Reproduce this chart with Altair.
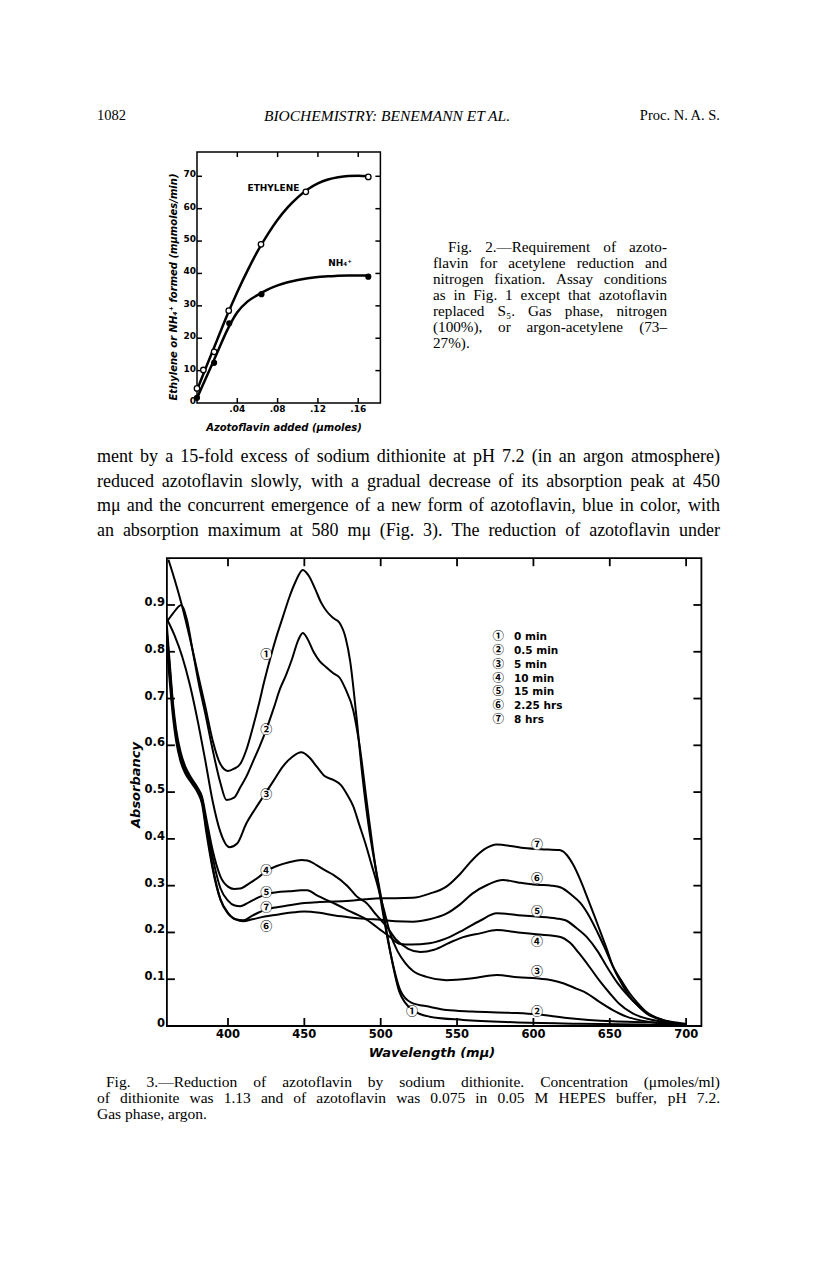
import altair as alt
import pandas as pd

# ------------------------------------------------------------------ page text
header_left = "1082"
header_center = "BIOCHEMISTRY: BENEMANN ET AL."
header_right = "Proc. N. A. S."

fig2_caption = [
    "Fig. 2.—Requirement of azoto-",
    "flavin for acetylene reduction and",
    "nitrogen fixation.  Assay conditions",
    "as in Fig. 1 except that azotoflavin",
    "replaced S₅.  Gas phase, nitrogen",
    "(100%), or argon-acetylene (73–",
    "27%).",
]
paragraph = [
    "ment by a 15-fold excess of sodium dithionite at pH 7.2 (in an argon atmosphere)",
    "reduced azotoflavin slowly, with a gradual decrease of its absorption peak at 450",
    "mμ and the concurrent emergence of a new form of azotoflavin, blue in color, with",
    "an absorption maximum at 580 mμ (Fig. 3).   The reduction of azotoflavin under",
]
fig3_caption = [
    "Fig. 3.—Reduction of azotoflavin by sodium dithionite.  Concentration (μmoles/ml)",
    "of dithionite was 1.13 and of azotoflavin was 0.075 in 0.05 M HEPES buffer, pH 7.2.",
    "Gas phase, argon.",
]

# ------------------------------------------------------------------ Fig. 2 data
eth_pts_x = [0.0, 0.0063, 0.017, 0.0315, 0.0635, 0.108, 0.170]
eth_pts_y = [4.5, 10.2, 15.8, 28.5, 49.0, 65.2, 69.8]
nh4_pts_x = [0.0, 0.017, 0.032, 0.064, 0.170]
nh4_pts_y = [1.6, 12.4, 24.6, 33.6, 39.0]
curve2_x = [0, .01, .02, .03, .04, .05, .06, .07, .08, .09, .10, .11, .12, .13, .14, .15, .16, .17]
curve2_eth = [4, 11.8, 19.5, 27.2, 34.3, 40.8, 46.8, 52, 56.6, 60.4, 63.5, 66.0, 67.8, 69.0, 69.7, 70.1, 70.2, 70.0]
curve2_nh4 = [1.5, 8.5, 15.5, 22.5, 28, 31.3, 33.3, 35, 36.3, 37.3, 38, 38.5, 38.9, 39.1, 39.3, 39.4, 39.4, 39.4]
fig2_x_ticks = [0.04, 0.08, 0.12, 0.16]
fig2_x_labels = [".04", ".08", ".12", ".16"]
fig2_y_ticks = [10, 20, 30, 40, 50, 60, 70]
fig2_y_vals = [0, 10, 20, 30, 40, 50, 60, 70]
fig2_y_labels = ["0", "10", "20", "30", "40", "50", "60", "70"]
fig2_x_title = "Azotoflavin added (μmoles)"
fig2_y_title = "Ethylene or NH₄⁺ formed (mμmoles/min)"

# ------------------------------------------------------------------ Fig. 3 data
c1_wl = [361, 365, 370, 375, 380, 385, 390, 395, 400, 404, 408, 412, 416, 420, 424, 428, 432, 436, 440, 444,
         449, 453, 457, 461, 465, 469, 473, 477, 480, 484, 488, 492, 496, 500, 504, 508, 512, 516, 521,
         532, 554, 587, 630, 670, 700]
c1_ab = [0.997, 0.955, 0.897, 0.83, 0.757, 0.685, 0.61, 0.56, 0.545, 0.55, 0.56, 0.59, 0.635, 0.685, 0.74,
         0.79, 0.835, 0.875, 0.915, 0.948, 0.975, 0.962, 0.935, 0.905, 0.885, 0.872, 0.862, 0.83, 0.78,
         0.665, 0.535, 0.43, 0.35, 0.28, 0.20, 0.13, 0.075, 0.05, 0.034, 0.02, 0.013, 0.008, 0.005, 0.003, 0.002]
c2_wl = [360, 364, 369.5, 373, 377, 381, 385, 390, 395, 399, 404, 408, 412, 417, 421, 425, 430, 434, 438,
         442, 446, 449, 452, 456, 460, 464, 469, 473, 477, 482, 486, 491, 495, 500, 506, 513, 520, 532,
         543, 560, 587, 602, 622, 652, 675, 700]
c2_ab = [0.864, 0.882, 0.90, 0.87, 0.80, 0.73, 0.67, 0.59, 0.52, 0.483, 0.488, 0.51, 0.533, 0.57, 0.60,
         0.633, 0.68, 0.72, 0.75, 0.785, 0.825, 0.84, 0.828, 0.80, 0.78, 0.768, 0.754, 0.745, 0.72, 0.675,
         0.603, 0.476, 0.376, 0.27, 0.162, 0.075, 0.05, 0.041, 0.034, 0.031, 0.028, 0.025, 0.017, 0.01,
         0.008, 0.005]
c3_wl = [360, 365, 370, 375, 380, 385, 390, 395, 401, 406, 412, 418, 424, 430, 436, 442, 448, 453, 458,
         463, 469, 474, 478, 482, 486, 490, 494, 498, 502, 506, 511, 516, 521, 530, 543, 560, 576, 590,
         602, 612, 620, 628, 635, 643, 652, 661, 670, 680, 690, 700]
c3_ab = [0.87, 0.835, 0.79, 0.73, 0.655, 0.57, 0.48, 0.415, 0.382, 0.39, 0.433, 0.465, 0.495, 0.525,
         0.555, 0.575, 0.585, 0.575, 0.555, 0.535, 0.526, 0.515, 0.495, 0.47, 0.43, 0.39, 0.345, 0.30,
         0.25, 0.20, 0.16, 0.135, 0.118, 0.105, 0.098, 0.102, 0.109, 0.104, 0.102, 0.098, 0.091, 0.08,
         0.07, 0.052, 0.034, 0.02, 0.012, 0.007, 0.004, 0.002]
c4_wl = [360, 362, 364, 366, 369, 372, 376, 380, 383, 386, 390, 395, 400, 404, 408, 414, 420, 425, 432,
         440, 448, 452, 458, 464, 469, 478, 485, 491, 497, 504, 510, 518, 526, 535, 545, 554, 565, 576,
         590, 602, 617, 624, 630, 637, 643, 650, 656, 665, 674, 685, 696, 700]
c4_ab = [0.855, 0.77, 0.69, 0.635, 0.585, 0.555, 0.53, 0.51, 0.49, 0.44, 0.375, 0.32, 0.298, 0.293,
         0.294, 0.305, 0.318, 0.331, 0.342, 0.35, 0.355, 0.354, 0.344, 0.332, 0.323, 0.30, 0.275, 0.262,
         0.238, 0.212, 0.185, 0.165, 0.158, 0.163, 0.178, 0.19, 0.198, 0.205, 0.2, 0.196, 0.191, 0.178,
         0.155, 0.125, 0.098, 0.07, 0.048, 0.027, 0.016, 0.009, 0.005, 0.004]
c5_wl = [360, 362, 364, 366, 369, 372, 376, 380, 383, 386, 390, 395, 400, 404, 408, 414, 420, 425, 432,
         440, 448, 452, 458, 464, 469, 480, 491, 500, 507, 512, 520, 532, 545, 554, 565, 576, 590, 602,
         615, 621, 628, 635, 642, 648, 655, 661, 668, 674, 685, 696, 700]
c5_ab = [0.83, 0.75, 0.675, 0.625, 0.575, 0.55, 0.525, 0.505, 0.485, 0.43, 0.36, 0.295, 0.268, 0.258,
         0.256, 0.265, 0.275, 0.282, 0.286, 0.288, 0.29, 0.29, 0.28, 0.27, 0.263, 0.245, 0.227, 0.205,
         0.188, 0.176, 0.174, 0.177, 0.19, 0.205, 0.225, 0.241, 0.237, 0.234, 0.23, 0.226, 0.21, 0.19,
         0.16, 0.127, 0.092, 0.068, 0.045, 0.028, 0.012, 0.005, 0.004]
c6_wl = [360, 362, 364, 366, 369, 372, 376, 380, 383, 386, 390, 395, 400, 405, 410, 416, 424, 432, 440,
         450, 460, 470, 480, 490, 500, 510, 521, 532, 543, 552, 560, 570, 580, 590, 602, 612, 618, 625,
         631, 637, 642, 647, 652, 658, 663, 668, 674, 685, 696, 700]
c6_ab = [0.81, 0.73, 0.66, 0.61, 0.565, 0.54, 0.52, 0.50, 0.475, 0.41, 0.335, 0.27, 0.24, 0.228, 0.224,
         0.228, 0.234, 0.238, 0.242, 0.245, 0.242, 0.236, 0.232, 0.229, 0.227, 0.224, 0.223, 0.228, 0.24,
         0.26, 0.283, 0.302, 0.312, 0.307, 0.302, 0.30, 0.296, 0.28, 0.262, 0.232, 0.20, 0.165, 0.128,
         0.095, 0.07, 0.05, 0.03, 0.013, 0.006, 0.004]
c7_wl = [360, 362, 364, 366, 369, 372, 376, 380, 383, 386, 390, 395, 400, 405, 410, 416, 424, 432, 440,
         450, 460, 470, 480, 490, 500, 510, 521, 532, 543, 552, 560, 568, 576, 585, 592, 605, 617, 622,
         626, 631, 635, 640, 644, 648, 652, 657, 663, 668, 674, 685, 696, 700]
c7_ab = [0.84, 0.76, 0.68, 0.62, 0.57, 0.545, 0.522, 0.503, 0.48, 0.42, 0.34, 0.272, 0.242, 0.228,
         0.226, 0.236, 0.248, 0.254, 0.258, 0.263, 0.265, 0.266, 0.268, 0.271, 0.273, 0.273, 0.274,
         0.283, 0.298, 0.325, 0.355, 0.378, 0.388, 0.385, 0.381, 0.378, 0.376, 0.365, 0.345, 0.31,
         0.277, 0.235, 0.20, 0.165, 0.128, 0.095, 0.063, 0.045, 0.027, 0.012, 0.005, 0.003]
curves3 = [c1_wl, c1_ab, c2_wl, c2_ab, c3_wl, c3_ab, c4_wl, c4_ab, c5_wl, c5_ab, c6_wl, c6_ab, c7_wl, c7_ab]

fig3_x_ticks = [400, 450, 500, 550, 600, 650, 700]
fig3_x_labels = ["400", "450", "500", "550", "600", "650", "700"]
fig3_y_ticks = [0.1, 0.2, 0.3, 0.4, 0.5, 0.6, 0.7, 0.8, 0.9]
fig3_y_vals = [0, 0.1, 0.2, 0.3, 0.4, 0.5, 0.6, 0.7, 0.8, 0.9]
fig3_y_labels = ["0", "0.1", "0.2", "0.3", "0.4", "0.5", "0.6", "0.7", "0.8", "0.9"]
fig3_x_title = "Wavelength (mμ)"
fig3_y_title = "Absorbancy"

legend_symbols = ["①", "②", "③", "④", "⑤", "⑥", "⑦"]
legend_labels = ["0 min", "0.5 min", "5 min", "10 min", "15 min", "2.25 hrs", "8 hrs"]
left_label_syms = ["①", "②", "③", "④", "⑤", "⑦", "⑥"]
left_label_ab = [0.793, 0.633, 0.494, 0.331, 0.284, 0.252, 0.212]
right_label_syms = ["⑦", "⑥", "⑤", "④", "③", "②", "①"]
right_label_wl = [602.4, 602.4, 602.4, 602.4, 602.4, 602.4, 520.5]
right_label_ab = [0.387, 0.314, 0.244, 0.18, 0.115, 0.03, 0.03]

# ------------------------------------------------------------------ layout (page px)
W, H = 800, 1180
M = 8


def px(v):
    return v - M


F2_L, F2_R, F2_B, F2_T = 197.0, 380.4, 403.0, 152.0
F2_XDOM, F2_YDOM = [0, 0.182], [0, 77.5]
F3_L, F3_R, F3_B, F3_T = 166.9, 701.4, 1026.0, 558.2
F3_XDOM, F3_YDOM = [360, 710], [0, 1.0]

SANS = "DejaVu Sans"
SERIF = "Liberation Serif"
CIRC = "Noto Sans CJK JP"

xs2 = alt.Scale(domain=F2_XDOM, range=[px(F2_L), px(F2_R)], nice=False, zero=False)
ys2 = alt.Scale(domain=F2_YDOM, range=[px(F2_B), px(F2_T)], nice=False, zero=False)
xs3 = alt.Scale(domain=F3_XDOM, range=[px(F3_L), px(F3_R)], nice=False, zero=False)
ys3 = alt.Scale(domain=F3_YDOM, range=[px(F3_B), px(F3_T)], nice=False, zero=False)


def frame_ticks(xs, ys, xdom, ydom, L, R, B, T, xt, yt, tl, sw):
    one = pd.DataFrame({"d": [0]})
    frame = alt.Chart(one).mark_rect(fill="white", fillOpacity=0, stroke="black", strokeWidth=sw).encode(
        x=alt.XDatum(xdom[0], scale=xs, axis=None), x2=alt.X2Datum(xdom[1]),
        y=alt.YDatum(ydom[0], scale=ys, axis=None), y2=alt.Y2Datum(ydom[1]))
    bx = alt.Chart(pd.DataFrame({"v": xt}))
    by = alt.Chart(pd.DataFrame({"v": yt}))
    rk = dict(color="black", strokeWidth=sw)
    bot = bx.mark_rule(**rk).encode(x=alt.X("v:Q", scale=xs, axis=None),
                                    y=alt.value(px(B)), y2=alt.value(px(B) - tl))
    top = bx.mark_rule(**rk).encode(x=alt.X("v:Q", scale=xs, axis=None),
                                    y=alt.value(px(T)), y2=alt.value(px(T) + tl))
    lef = by.mark_rule(**rk).encode(y=alt.Y("v:Q", scale=ys, axis=None),
                                    x=alt.value(px(L)), x2=alt.value(px(L) + tl))
    rig = by.mark_rule(**rk).encode(y=alt.Y("v:Q", scale=ys, axis=None),
                                    x=alt.value(px(R)), x2=alt.value(px(R) - tl))
    return [frame, bot, top, lef, rig]


def axis_labels(xs, ys, L, B, xv, xl, yv, yl, size, xpad, ypad, ydy):
    lk = dict(font=SANS, fontWeight="bold", fontSize=size, color="black")
    xlab = alt.Chart(pd.DataFrame({"v": xv, "t": xl})).mark_text(align="center", baseline="top", **lk).encode(
        x=alt.X("v:Q", scale=xs, axis=None), y=alt.value(px(B) + xpad), text="t:N")
    ylab = alt.Chart(pd.DataFrame({"v": yv, "t": yl})).mark_text(align="right", baseline="middle", dy=ydy,
                                                                 **lk).encode(
        y=alt.Y("v:Q", scale=ys, axis=None), x=alt.value(px(L) - ypad), text="t:N")
    return [xlab, ylab]


def title_text(t, x, y, size, angle=0):
    return alt.Chart(pd.DataFrame({"t": [t]})).mark_text(
        font=SANS, fontWeight="bold", fontStyle="italic", fontSize=size, color="black",
        align="center", baseline="middle", angle=angle).encode(
        x=alt.value(px(x)), y=alt.value(px(y)), text="t:N")


# ------------------------------------------------------------------ Fig. 2
n2 = len(curve2_x)
f2c = pd.DataFrame({"x": curve2_x + curve2_x, "y": curve2_eth + curve2_nh4,
                    "s": ["Ethylene"] * n2 + ["NH4"] * n2})
lines2 = alt.Chart(f2c).mark_line(color="black", strokeWidth=2.5, interpolate="monotone").encode(
    x=alt.X("x:Q", scale=xs2, axis=None), y=alt.Y("y:Q", scale=ys2, axis=None), detail="s:N")
eth_p = alt.Chart(pd.DataFrame({"x": eth_pts_x, "y": eth_pts_y})).mark_point(
    shape="circle", filled=True, fill="white", stroke="black", strokeWidth=1.3, size=30, opacity=1).encode(
    x=alt.X("x:Q", scale=xs2, axis=None), y=alt.Y("y:Q", scale=ys2, axis=None))
nh4_p = alt.Chart(pd.DataFrame({"x": nh4_pts_x, "y": nh4_pts_y})).mark_circle(
    color="black", size=38, opacity=1).encode(
    x=alt.X("x:Q", scale=xs2, axis=None), y=alt.Y("y:Q", scale=ys2, axis=None))
lab2 = alt.Chart(pd.DataFrame({"x": [0.0759, 0.142], "y": [66.4, 43.2], "t": ["ETHYLENE", "NH₄⁺"]})).mark_text(
    font=SANS, fontWeight="bold", fontSize=9, color="black").encode(
    x=alt.X("x:Q", scale=xs2, axis=None), y=alt.Y("y:Q", scale=ys2, axis=None), text="t:N")

fig2 = alt.layer(*frame_ticks(xs2, ys2, F2_XDOM, F2_YDOM, F2_L, F2_R, F2_B, F2_T,
                              fig2_x_ticks, fig2_y_ticks, 5, 1.5),
                 lines2, eth_p, nh4_p, lab2,
                 *axis_labels(xs2, ys2, F2_L, F2_B, fig2_x_ticks, fig2_x_labels,
                              fig2_y_vals, fig2_y_labels, 9, 2, 1, -2),
                 title_text(fig2_x_title, 284, 428, 10),
                 title_text(fig2_y_title, 174, 287, 10, 270))

# ------------------------------------------------------------------ Fig. 3
rows = []
for k in range(7):
    for w, a in zip(curves3[2 * k], curves3[2 * k + 1]):
        rows.append({"wl": w, "ab": a, "curve": str(k + 1)})
f3c = pd.DataFrame(rows)
lines3 = alt.Chart(f3c).mark_line(color="black", strokeWidth=2, interpolate="monotone").encode(
    x=alt.X("wl:Q", scale=xs3, axis=None), y=alt.Y("ab:Q", scale=ys3, axis=None), detail="curve:N")

lab3 = pd.DataFrame({"wl": [425.0] * 7 + right_label_wl,
                     "ab": left_label_ab + right_label_ab,
                     "t": left_label_syms + right_label_syms})
lab3_bg = alt.Chart(lab3).mark_circle(color="white", size=105, opacity=1).encode(
    x=alt.X("wl:Q", scale=xs3, axis=None), y=alt.Y("ab:Q", scale=ys3, axis=None))
lab3_tx = alt.Chart(lab3).mark_text(font=CIRC, fontSize=12, fontWeight="bold", color="black",
                                    baseline="middle").encode(
    x=alt.X("wl:Q", scale=xs3, axis=None), y=alt.Y("ab:Q", scale=ys3, axis=None), text="t:N")

leg_rows = pd.DataFrame({"sym": legend_symbols, "lab": legend_labels,
                         "ab": [0.831 - 0.0295 * i for i in range(7)]})
leg_sym = alt.Chart(leg_rows).mark_text(font=CIRC, fontSize=11.5, fontWeight="bold", color="black").encode(
    x=alt.XDatum(577, scale=xs3, axis=None), y=alt.Y("ab:Q", scale=ys3, axis=None), text="sym:N")
leg_lab = alt.Chart(leg_rows).mark_text(font=SANS, fontWeight="bold", fontSize=10.5, color="black",
                                        align="left").encode(
    x=alt.XDatum(587.3, scale=xs3, axis=None), y=alt.Y("ab:Q", scale=ys3, axis=None), text="lab:N")

fig3 = alt.layer(*frame_ticks(xs3, ys3, F3_XDOM, F3_YDOM, F3_L, F3_R, F3_B, F3_T,
                              fig3_x_ticks, fig3_y_ticks, 8, 1.8),
                 lines3, lab3_bg, lab3_tx, leg_sym, leg_lab,
                 *axis_labels(xs3, ys3, F3_L, F3_B, fig3_x_ticks, fig3_x_labels,
                              fig3_y_vals, fig3_y_labels, 11.5, 3, 2, -2),
                 title_text(fig3_x_title, 432, 1053, 13),
                 title_text(fig3_y_title, 136, 785, 13, 270))

# ------------------------------------------------------------------ page text (justified by word)
LOW = dict(zip("abcdefghijklmnopqrstuvwxyz",
               [444, 500, 444, 500, 444, 333, 500, 500, 278, 278, 500, 278, 778, 500, 500, 500, 500,
                333, 389, 278, 500, 500, 722, 500, 500, 444]))
UP = dict(zip("ABCDEFGHIJKLMNOPQRSTUVWXYZ",
              [722, 667, 667, 722, 611, 556, 722, 722, 333, 389, 722, 611, 889, 722, 722, 556, 722,
               667, 556, 611, 722, 722, 944, 722, 722, 611]))
TW = {**LOW, **UP, **{d: 500 for d in "0123456789"},
      " ": 250, ".": 250, ",": 250, ":": 278, "(": 333, ")": 333, "-": 333, "—": 1000, "–": 500,
      "%": 833, "/": 278, "μ": 520, "₅": 333}


def tw(s, size):
    return sum(TW.get(c, 500) for c in s) / 1000.0 * size


def justify(lines, x0, x1, y0, dy, size, indent=0.0, last_free=True):
    left_rows, right_rows = [], []
    for i, line in enumerate(lines):
        words = line.split()
        lft = x0 + (indent if i == 0 else 0)
        y = px(y0 + i * dy)
        widths = [tw(w, size) for w in words]
        free = (last_free and i == len(lines) - 1) or len(words) == 1
        if free:
            gap = 0.25 * size
        else:
            gap = max(0.12 * size, (x1 - lft - sum(widths)) / (len(words) - 1))
        x = lft
        for j, (w, wd) in enumerate(zip(words, widths)):
            if (not free) and j == len(words) - 1:
                right_rows.append({"t": w, "x": px(x1), "y": y})
            else:
                left_rows.append({"t": w, "x": px(x), "y": y})
            x += wd + gap
    return pd.DataFrame(left_rows), pd.DataFrame(right_rows)


def text_layer(df, align, size, style="normal", font=SERIF):
    return alt.Chart(df).mark_text(font=font, fontSize=size, fontStyle=style, align=align,
                                   baseline="middle", color="black").encode(
        x=alt.X("x:Q", scale=None, axis=None), y=alt.Y("y:Q", scale=None, axis=None), text="t:N")


text_layers = []
hdr_y = px(116)
text_layers.append(text_layer(pd.DataFrame({"t": [header_left], "x": [px(97)], "y": [hdr_y]}), "left", 14.5))
text_layers.append(text_layer(pd.DataFrame({"t": [header_center], "x": [px(387)], "y": [hdr_y]}), "center", 15.5,
                              style="italic"))
text_layers.append(text_layer(pd.DataFrame({"t": [header_right], "x": [px(720)], "y": [hdr_y]}), "right", 14.5))

for lines, x0, x1, y0, dy, size, ind, free in [
    (fig2_caption, 433, 667, 246.7, 16.1, 15.2, 15, True),
    (paragraph, 97, 720, 457, 24.5, 18, 0, False),
    (fig3_caption, 97, 720, 1082, 16.2, 15.5, 9, True),
]:
    l_df, r_df = justify(lines, x0, x1, y0, dy, size, ind, free)
    text_layers.append(text_layer(l_df, "left", size))
    if len(r_df):
        text_layers.append(text_layer(r_df, "right", size))

chart = alt.layer(fig2, fig3, *text_layers).resolve_scale(
    x="independent", y="independent").properties(
    width=W, height=H, autosize=alt.AutoSizeParams(type="none"), padding=0, background="white"
).configure_view(stroke=None)

chart.save("out.html", embed_options={"renderer": "svg", "actions": False})
